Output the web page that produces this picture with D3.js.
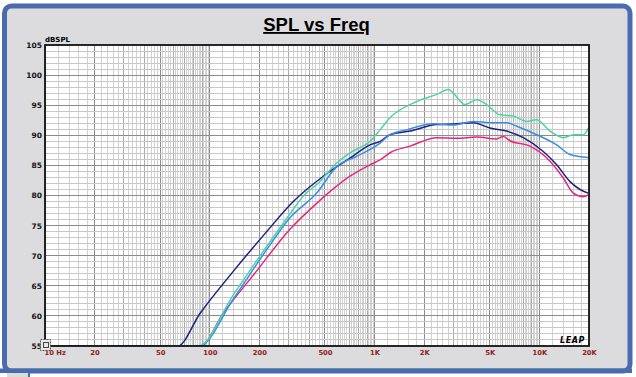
<!DOCTYPE html>
<html>
<head>
<meta charset="utf-8">
<script src="https://cdn.jsdelivr.net/npm/d3@7"></script>
<style>
  body { margin: 0; background: #fff; }
  text { font-family: "DejaVu Sans", sans-serif; }
</style>
</head>
<body>
<div id="chart"></div>
<script>
// Frequency response curves (Hz, dBSPL); 55 dB is the floor of the chart
const navyFreq = [10, 63.9, 87.2, 138.8, 221.4, 321.1, 488.4, 709, 938, 1079, 1240, 1640, 2382, 3150, 3971, 5015, 6333, 7987, 10560, 12730, 15340, 17640, 19810]
const navySpl  = [55, 55, 60.4, 67.4, 74.0, 79.0, 83.2, 86.2, 88.4, 89.0, 90.1, 90.7, 91.8, 91.9, 92.1, 91.2, 90.7, 89.6, 87.3, 85.1, 82.3, 81.0, 80.4]

const pinkFreq = [10, 88.2, 120.3, 191.5, 306.6, 445.4, 709, 938, 1079, 1240, 1640, 2382, 3150, 4165, 5507, 6040, 6631, 8770, 11600, 13960, 16060, 18470, 19810]
const pinkSpl  = [55, 55, 60.4, 67.4, 74.4, 78.7, 83.2, 85.1, 85.9, 87.1, 88.2, 89.6, 89.5, 89.7, 89.4, 89.8, 89.1, 88.2, 85.7, 82.9, 80.4, 79.8, 80.1]

const blueFreq = [10, 86.4, 138.8, 221.4, 306.6, 445.4, 588.8, 778.7, 1079, 1240, 1566, 2271, 3002, 3971, 5015, 6333, 7284, 9630, 12730, 15340, 19810]
const blueSpl  = [55, 55, 62.8, 71.0, 76.3, 80.4, 84.8, 86.5, 88.7, 90.1, 90.9, 91.9, 91.7, 92.3, 92.1, 92.1, 91.5, 90.1, 88.4, 86.8, 86.3]

const mintFreq = [10, 85.2, 138.8, 279.3, 387.3, 445.4, 588.8, 709, 938, 1079, 1240, 1800, 2382, 2801, 3002, 3537, 4165, 4789, 5767, 6945, 8375, 9630, 11600, 13960, 16060, 18470, 19810]
const mintSpl  = [55, 55, 63.5, 75.4, 80.5, 81.8, 85.4, 87.1, 89.0, 90.9, 92.9, 95.6, 96.8, 97.6, 97.0, 95.1, 95.9, 95.1, 93.4, 93.2, 92.3, 92.6, 90.7, 89.6, 90.1, 90.1, 91.2]

// Axis ticks
const xTickValues = [10, 20, 50, 100, 200, 500, 1000, 2000, 5000, 10000, 20000]
const xTickLabels = ["10 Hz", "20", "50", "100", "200", "500", "1K", "2K", "5K", "10K", "20K"]
const yTickValues = [55, 60, 65, 70, 75, 80, 85, 90, 95, 100, 105]

// Chart parameters
const WIDTH = 636
const HEIGHT = 377
const PLOT = {LEFT:45, RIGHT:589, TOP:45, BOTTOM:346}

let svg = d3.select("#chart").append("svg")
    .attr("width", WIDTH)
    .attr("height", HEIGHT)

// Outer panel with the blue frame
svg.append("rect")
    .attr("x", 4.5).attr("y", 6)
    .attr("width", 625.5).attr("height", 365)
    .attr("rx", 7)
    .style("fill", "#dcdcdf")
    .style("stroke", "#4a6cae")
    .style("stroke-width", 5)
svg.append("rect")                                   // bottom band running out to the left
    .attr("x", 0).attr("y", 368.5).attr("width", 632).attr("height", 4.5)
    .style("fill", "#4a6cae")
svg.append("rect")
    .attr("x", 7).attr("y", 373).attr("width", 22).attr("height", 4)
    .style("fill", "#dcdcdf")
svg.append("rect")
    .attr("x", 28).attr("y", 373).attr("width", 2).attr("height", 4)
    .style("fill", "#4a6cae")

// Title
svg.append("text")
    .attr("x", 316.5).attr("y", 31)
    .attr("text-anchor", "middle")
    .style("font-family", "'Liberation Sans', Arial, sans-serif")
    .style("font-size", "18.5px")
    .style("font-weight", "bold")
    .style("text-decoration", "underline")
    .text("SPL vs Freq")

// Scales
let xScale = d3.scaleLog()
    .domain([10, 20000])
    .range([PLOT.LEFT, PLOT.RIGHT])
let yScale = d3.scaleLinear()
    .domain([55, 105])
    .range([PLOT.BOTTOM, PLOT.TOP])

// White plot area
svg.append("rect")
    .attr("x", PLOT.LEFT).attr("y", PLOT.TOP)
    .attr("width", PLOT.RIGHT - PLOT.LEFT).attr("height", PLOT.BOTTOM - PLOT.TOP)
    .style("fill", "#fff")

// Vertical grid: every 1/5 of a decade step, darker on whole multiples
let vMinor = [], vMajor = []
for (let dec = 10; dec < 20000; dec *= 10) {
    let step = dec / 5
    for (let f = dec; f < dec * 10 && f <= 20000; f += step) {
        if (Math.abs(f / dec - Math.round(f / dec)) < 1e-6) vMajor.push(f)
        else vMinor.push(f)
    }
}
let grid = svg.append("g").attr("shape-rendering", "crispEdges")
grid.selectAll(".vminor").data(vMinor).enter().append("line")
    .attr("x1", d => xScale(d)).attr("x2", d => xScale(d))
    .attr("y1", PLOT.TOP).attr("y2", PLOT.BOTTOM)
    .style("stroke", "#d2d2d2").style("stroke-width", 1)
grid.selectAll(".vmajor").data(vMajor).enter().append("line")
    .attr("x1", d => xScale(d)).attr("x2", d => xScale(d))
    .attr("y1", PLOT.TOP).attr("y2", PLOT.BOTTOM)
    .style("stroke", d => [10, 20, 50, 100, 200, 500, 1000, 2000, 5000, 10000].includes(d) ? "#8c8c8c" : "#aaaaaa")
    .style("stroke-width", 1)

// Horizontal grid: every dB, darker every 5 dB
let hLines = d3.range(56, 105, 1)
grid.selectAll(".h").data(hLines).enter().append("line")
    .attr("x1", PLOT.LEFT).attr("x2", PLOT.RIGHT)
    .attr("y1", d => yScale(d)).attr("y2", d => yScale(d))
    .style("stroke", d => d % 5 == 0 ? "#8c8c8c" : "#c8c8c8")
    .style("stroke-width", 1)

// Curves, clipped to the plot
svg.append("clipPath").attr("id", "clip")
    .append("rect")
    .attr("x", PLOT.LEFT).attr("y", PLOT.TOP - 1)
    .attr("width", PLOT.RIGHT - PLOT.LEFT).attr("height", PLOT.BOTTOM - PLOT.TOP + 1)

let series = [
    {freq: pinkFreq, spl: pinkSpl, color: "#e6287c"},
    {freq: navyFreq, spl: navySpl, color: "#1c2080"},
    {freq: blueFreq, spl: blueSpl, color: "#3a8ce4"},
    {freq: mintFreq, spl: mintSpl, color: "#4dd3aa"}
]

let line = d3.line()
    .x(d => xScale(d[0]))
    .y(d => yScale(d[1]))
    .curve(d3.curveMonotoneX)

svg.append("g").attr("clip-path", "url(#clip)")
    .selectAll("path")
    .data(series)
    .enter()
    .append("path")
        .attr("d", s => line(s.freq.map((f, i) => [f, s.spl[i]])))
        .style("fill", "none")
        .style("stroke", s => s.color)
        .style("stroke-width", 1.5)

// Plot frame
svg.append("rect")
    .attr("x", PLOT.LEFT).attr("y", PLOT.TOP)
    .attr("width", PLOT.RIGHT - PLOT.LEFT).attr("height", PLOT.BOTTOM - PLOT.TOP)
    .style("fill", "none")
    .style("stroke", "#111")
    .style("stroke-width", 1.8)

// y axis labels
let yAxis = svg.append("g")
    .attr("transform", "translate(" + PLOT.LEFT + ",0)")
    .call(d3.axisLeft(yScale).tickValues(yTickValues).tickSize(0).tickPadding(3))
yAxis.select(".domain").remove()
yAxis.selectAll("text")
    .style("font-family", "'DejaVu Sans', sans-serif")
    .style("font-size", "7.5px")
    .style("font-weight", "bold")
    .style("fill", "#111")

svg.append("text")
    .attr("x", PLOT.LEFT).attr("y", 42)
    .style("font-size", "7px")
    .style("font-weight", "bold")
    .text("dBSPL")

// x axis labels
let xAxis = svg.append("g")
    .attr("transform", "translate(0," + PLOT.BOTTOM + ")")
    .call(d3.axisBottom(xScale).tickValues(xTickValues)
        .tickFormat((d, i) => xTickLabels[i]).tickSize(0).tickPadding(4))
xAxis.select(".domain").remove()
xAxis.selectAll("text")
    .style("font-family", "'DejaVu Sans', sans-serif")
    .style("font-size", "6.8px")
    .style("font-weight", "bold")
    .style("fill", "#8e1c1c")
    .attr("text-anchor", (d, i) => i == 0 ? "start" : "middle")
    .attr("x", (d, i) => i == 0 ? -1 : 0)

// Little zoom icon over the corner
let icon = svg.append("g").attr("transform", "translate(40,339)")
icon.append("rect").attr("x", 0.5).attr("y", 0.5).attr("width", 10).attr("height", 11)
    .style("fill", "#e8e8e8").style("stroke", "#555").style("stroke-dasharray", "2,1")
icon.append("rect").attr("x", 3.5).attr("y", 3.5).attr("width", 5).attr("height", 5)
    .style("fill", "none").style("stroke", "#444")

// LEAP logo
svg.append("text")
    .attr("x", 585).attr("y", 343)
    .attr("text-anchor", "end")
    .style("font-family", "'DejaVu Sans', sans-serif")
    .style("font-size", "8px")
    .style("font-weight", "bold")
    .style("font-style", "italic")
    .style("letter-spacing", "0.6px")
    .text("LEAP")
</script>
</body>
</html>
